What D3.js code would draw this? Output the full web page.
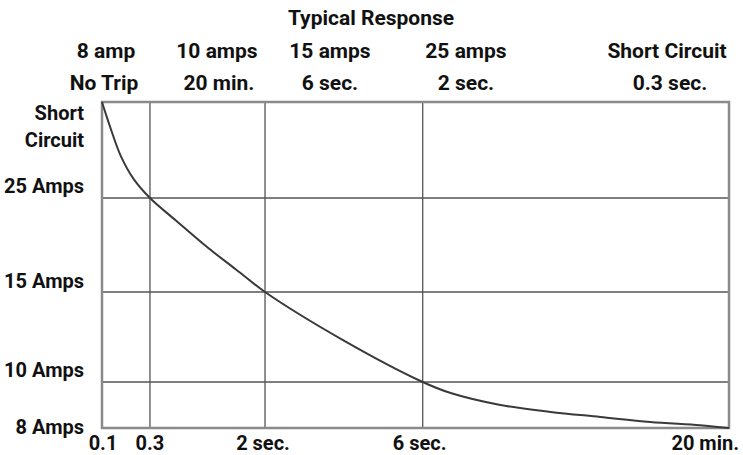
<!DOCTYPE html>
<html>
<head>
<meta charset="utf-8">
<script src="https://d3js.org/d3.v7.min.js"></script>
<style>
    body { margin: 0; background: #fff; }
    text { font-family: Roboto, "Liberation Sans", sans-serif; font-weight: bold; fill: #111; }
</style>
</head>
<body>
<div id="chart"></div>
<script>
// time axis (seconds) and current axis (amps), short circuit put at 40 A
var xTickValues = [0.1, 0.3, 2, 6, 1200];
var xTickLabels = ["0.1", "0.3", "2 sec.", "6 sec.", "20 min."];
var yTickValues = [8, 10, 15, 25, 40];
var yTickLabels = [["8 Amps"], ["10 Amps"], ["15 Amps"], ["25 Amps"], ["Short", "Circuit"]];

var responseTitle = "Typical Response";
var responseAmps = ["8 amp", "10 amps", "15 amps", "25 amps", "Short Circuit"];
var responseTimes = ["No Trip", "20 min.", "6 sec.", "2 sec.", "0.3 sec."];

// trip curve [seconds, amps]
var curveTime = [0.1, 0.117, 0.1375, 0.179, 0.233, 0.3, 0.684, 1.157, 1.571, 2, 4, 6, 115, 309, 504, 698, 893, 1087, 1200];
var curveAmps = [40, 38, 35.7, 31.5, 27.9, 25, 22.6, 19.7, 17.4, 15, 12.3, 10, 9.52, 9.0, 8.70, 8.48, 8.26, 8.12, 8];

var width = 743, height = 455;
var margin = {left: 102, right: 14, top: 102, bottom: 27};
var innerW = width - margin.left - margin.right;
var innerH = height - margin.top - margin.bottom;

// the original grid is not evenly spaced, so piecewise scales
var x = d3.scaleLinear()
    .domain(xTickValues)
    .range([0, 0.0765, 0.26, 0.5115, 1].map(function (f) { return f * innerW; }));
var y = d3.scaleLinear()
    .domain(yTickValues)
    .range([1, 0.8589, 0.5828, 0.2945, 0].map(function (f) { return f * innerH; }));

var svg = d3.select("#chart").append("svg")
    .attr("width", width)
    .attr("height", height);

var g = svg.append("g")
    .attr("transform", "translate(" + margin.left + "," + margin.top + ")");

// inner grid
g.selectAll("line.vgrid")
    .data(xTickValues.slice(1, -1))
    .enter().append("line")
    .attr("class", "vgrid")
    .attr("x1", function (d) { return x(d); })
    .attr("x2", function (d) { return x(d); })
    .attr("y1", 0)
    .attr("y2", innerH)
    .attr("stroke", "#555")
    .attr("stroke-width", 1.3);

g.selectAll("line.hgrid")
    .data(yTickValues.slice(1, -1))
    .enter().append("line")
    .attr("class", "hgrid")
    .attr("x1", 0)
    .attr("x2", innerW)
    .attr("y1", function (d) { return y(d); })
    .attr("y2", function (d) { return y(d); })
    .attr("stroke", "#555")
    .attr("stroke-width", 1.3);

// frame
g.append("rect")
    .attr("x", 0)
    .attr("y", 0)
    .attr("width", innerW)
    .attr("height", innerH)
    .attr("fill", "none")
    .attr("stroke", "#8a8a8a")
    .attr("stroke-width", 2.5);

var line = d3.line()
    .x(function (d) { return x(d[0]); })
    .y(function (d) { return y(d[1]); })
    .curve(d3.curveCatmullRom.alpha(0.5));

g.append("path")
    .datum(d3.zip(curveTime, curveAmps))
    .attr("d", line)
    .attr("fill", "none")
    .attr("stroke", "#3a3a3a")
    .attr("stroke-width", 2);

// bottom labels
var xAnchor = ["middle", "middle", "middle", "middle", "end"];
var xShift = [1, 0, -2, -3, 10];
g.selectAll("text.xlab")
    .data(xTickValues)
    .enter().append("text")
    .attr("class", "xlab")
    .attr("x", function (d, i) { return x(d) + xShift[i]; })
    .attr("y", innerH + 22)
    .attr("text-anchor", function (d, i) { return xAnchor[i]; })
    .style("font-size", "20px")
    .text(function (d, i) { return xTickLabels[i]; });

// left labels
var yShift = [-1, -12, -11, -12, 24];
var yLab = g.selectAll("text.ylab")
    .data(yTickValues)
    .enter().append("text")
    .attr("class", "ylab")
    .attr("text-anchor", "end")
    .style("font-size", "20px")
    .attr("transform", function (d, i) {
        return "translate(-18," + (y(d) + yShift[i]) + ")";
    });

yLab.selectAll("tspan")
    .data(function (d, i) { return yTickLabels[i]; })
    .enter().append("tspan")
    .attr("x", 0)
    .attr("y", function (d, j, nodes) {
        return (j - (nodes.length - 1) / 2) * 27;
    })
    .attr("dy", "0.35em")
    .text(function (d) { return d; });

// top header
svg.append("text")
    .attr("x", 371)
    .attr("y", 25)
    .attr("text-anchor", "middle")
    .style("font-size", "21px")
    .text(responseTitle);

var headerX = [106, 217, 330, 466, 667];
svg.selectAll("text.amps")
    .data(responseAmps)
    .enter().append("text")
    .attr("class", "amps")
    .attr("x", function (d, i) { return headerX[i]; })
    .attr("y", 58)
    .attr("text-anchor", "middle")
    .style("font-size", "21px")
    .text(function (d) { return d; });

svg.selectAll("text.times")
    .data(responseTimes)
    .enter().append("text")
    .attr("class", "times")
    .attr("x", function (d, i) { return headerX[i] + [-2, 2, 0, 0, 3][i]; })
    .attr("y", 90)
    .attr("text-anchor", "middle")
    .style("font-size", "21px")
    .text(function (d) { return d; });
</script>
</body>
</html>
